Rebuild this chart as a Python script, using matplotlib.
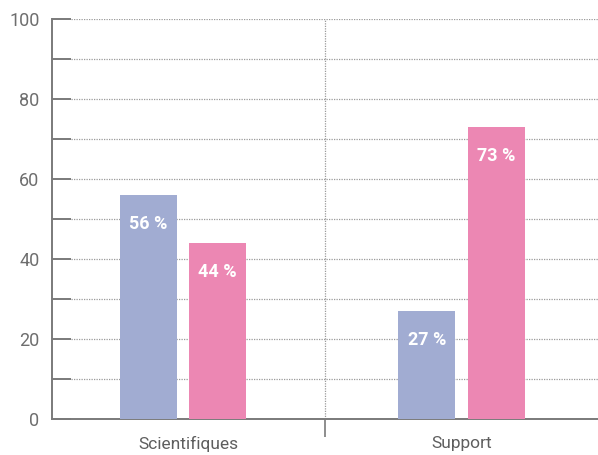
import matplotlib
matplotlib.use("Agg")
import matplotlib.pyplot as plt
import numpy as np

categories = ["Scientifiques", "Support"]
series_a = [56, 27]   # blue bars
series_b = [44, 73]   # pink bars
labels_a = ["56 %", "27 %"]
labels_b = ["44 %", "73 %"]
y_major = [0, 20, 40, 60, 80, 100]
y_minor = [10, 30, 50, 70, 90]

blue = "#A1ACD2"
pink = "#EC87B3"
axis_grey = "#7a7a7a"
text_grey = "#6e6e6e"

fig = plt.figure(figsize=(5.98, 4.55), dpi=100)
ax = fig.add_axes([52 / 598, 36 / 455, 546 / 598, 400 / 455])

centers = np.arange(len(categories)) + 0.5
group_shift = np.array([-0.02, 0.0])
width = 0.209
offset = 0.127

bars_a = ax.bar(centers + group_shift - offset, series_a, width=width, color=blue, zorder=3)
bars_b = ax.bar(centers + group_shift + offset, series_b, width=width, color=pink, zorder=3)

for bars, labels in ((bars_a, labels_a), (bars_b, labels_b)):
    for rect, lab in zip(bars, labels):
        ax.text(rect.get_x() + rect.get_width() / 2, rect.get_height() - 7.3, lab,
                ha="center", va="center", color="white", fontsize=13,
                fontweight="bold", family=["Roboto", "DejaVu Sans"], zorder=4)

ax.set_xlim(0, 2)
ax.set_ylim(0, 100)

# dotted horizontal grid, starting a little right of the axis
grid_y = sorted(y_major[1:] + y_minor)
ax.hlines(grid_y, 0.07, 2, colors="#9a9a9a", linestyles=(0, (1, 1)),
          linewidth=0.9, zorder=1)
# dotted separator between the two groups
ax.vlines(1.0, 0, 100, colors="#9a9a9a", linestyles=(0, (1, 1)),
          linewidth=0.9, zorder=1)

for side in ("top", "right"):
    ax.spines[side].set_visible(False)
for side in ("left", "bottom"):
    ax.spines[side].set_color(axis_grey)
    ax.spines[side].set_linewidth(1.4)

ax.set_yticks(y_major)
ax.set_yticks(y_minor, minor=True)
ax.tick_params(axis="y", which="both", direction="in", length=14, width=1.4,
               color=axis_grey, labelsize=13, labelcolor=text_grey, pad=9)

ax.set_xticks(centers)
ax.set_xticklabels(categories)
ax.set_xticks([1.0], minor=True)
ax.tick_params(axis="x", which="major", length=0, pad=12,
               labelsize=12.5, labelcolor="#5e5e5e")
ax.tick_params(axis="x", which="minor", direction="out", length=13,
               width=1.2, color=axis_grey)

for lab in ax.get_xticklabels() + ax.get_yticklabels():
    lab.set_family(["Roboto", "DejaVu Sans"])
    lab.set_fontweight("normal")

fig.savefig("out.png", dpi=100)
